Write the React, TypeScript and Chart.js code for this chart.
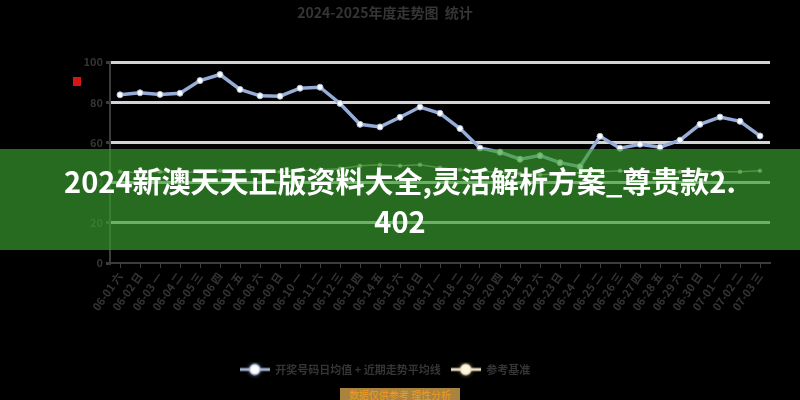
import React, { useEffect, useRef } from "react";
import { Chart, registerables } from "chart.js";

Chart.register(...registerables);

const FONT = "'Noto Sans CJK SC', 'Noto Sans', sans-serif";

const TITLE = "2024-2025年度走势图  统计";
const SERIES_A_NAME = "开奖号码日均值 + 近期走势平均线";
const SERIES_B_NAME = "参考基准";
const BANNER_LINE_1 = "2024新澳天天正版资料大全,灵活解析方案_尊贵款2.";
const BANNER_LINE_2 = "402";
const FOOTER_TEXT = "数据仅供参考 理性分析";

const CATEGORIES = [
  "06-01 六", "06-02 日", "06-03 一", "06-04 二", "06-05 三", "06-06 四", "06-07 五",
  "06-08 六", "06-09 日", "06-10 一", "06-11 二", "06-12 三", "06-13 四", "06-14 五",
  "06-15 六", "06-16 日", "06-17 一", "06-18 二", "06-19 三", "06-20 四", "06-21 五",
  "06-22 六", "06-23 日", "06-24 一", "06-25 二", "06-26 三", "06-27 四", "06-28 五",
  "06-29 六", "06-30 日", "07-01 一", "07-02 二", "07-03 三",
];

const SERIES_A = [
  83.8, 84.8, 84.0, 84.6, 90.9, 93.9, 86.5, 83.3, 83.1, 87.1, 87.6,
  79.5, 69.1, 67.8, 72.6, 77.7, 74.6, 67.0, 57.3, 55.2, 51.7, 53.5,
  50.0, 48.0, 63.1, 57.2, 59.2, 57.7, 61.2, 69.1, 72.7, 70.6, 63.3,
];

const SERIES_B = [
  45.5, 45.0, 45.5, 45.0, 45.5, 46.0, 45.5, 45.0, 45.5, 46.0, 46.5,
  47.0, 48.5, 49.0, 48.5, 49.0, 47.5, 46.5, 46.0, 45.0, 44.5, 44.0,
  44.5, 45.0, 45.5, 46.0, 45.5, 45.0, 45.5, 46.0, 45.5, 45.5, 46.0,
];

const Y_MIN = 0;
const Y_MAX = 100;
const Y_STEP = 20;

function makeIcon(line: string, fill: string, ring: string) {
  const c = document.createElement("canvas");
  c.width = 30;
  c.height = 16;
  const g = c.getContext("2d")!;
  g.strokeStyle = line;
  g.lineWidth = 3;
  g.beginPath();
  g.moveTo(0, 8);
  g.lineTo(30, 8);
  g.stroke();
  g.shadowColor = ring;
  g.shadowBlur = 4;
  g.fillStyle = fill;
  g.beginPath();
  g.arc(15, 8, 5, 0, Math.PI * 2);
  g.fill();
  g.shadowBlur = 0;
  g.lineWidth = 1.5;
  g.strokeStyle = ring;
  g.stroke();
  return c;
}

export default function App() {
  const ref = useRef<HTMLCanvasElement>(null);

  useEffect(() => {
    const canvas = ref.current!;
    Chart.defaults.font.family = FONT;
    const icons = [
      makeIcon("#a3b3d0", "#ffffff", "#b9c9e8"),
      makeIcon("#efe2c4", "#fff6e2", "#f3e4c2"),
    ];
    const chart = new Chart(canvas, {
      type: "line",
      data: {
        labels: CATEGORIES,
        datasets: [
          {
            label: SERIES_A_NAME,
            data: SERIES_A,
            borderColor: "#97acd7",
            borderWidth: 3.5,
            pointRadius: 3,
            pointBackgroundColor: "#ffffff",
            pointBorderColor: "#aabde2",
            pointBorderWidth: 1,
            tension: 0,
          },
          {
            label: SERIES_B_NAME,
            data: SERIES_B,
            borderColor: "rgba(239,227,198,0.55)",
            borderWidth: 1.5,
            pointRadius: 1.5,
            pointBackgroundColor: "rgba(255,250,240,0.6)",
            pointBorderColor: "rgba(239,227,198,0.55)",
            tension: 0,
          },
        ],
      },
      options: {
        responsive: false,
        animation: false,
        layout: { padding: { top: 4, right: 30, bottom: 15, left: 0 } },
        plugins: {
          title: {
            display: true,
            text: TITLE,
            color: "#353535",
            font: { size: 14, weight: "bold", family: FONT },
            padding: { top: 0, bottom: 41.5 },
          },
          legend: {
            position: "bottom",
            labels: {
              usePointStyle: true,
              pointStyleWidth: 30,
              color: "#353535",
              font: { size: 11, weight: "bold", family: FONT },
              padding: 10,
              generateLabels: (ch: any) => {
                const items = Chart.defaults.plugins.legend.labels.generateLabels(ch);
                items.forEach((it: any, i: number) => {
                  it.pointStyle = icons[i];
                });
                return items;
              },
            },
          },
          tooltip: { enabled: false },
        },
        scales: {
          x: {
            offset: true,
            grid: {
              display: true,
              drawOnChartArea: false,
              drawTicks: true,
              tickLength: 5,
              color: "#3c3c3c",
              tickColor: "#3c3c3c",
            },
            border: { color: "#3c3c3c", width: 2 },
            ticks: {
              color: "#353535",
              font: { size: 11, weight: "bold", family: FONT },
              minRotation: 55,
              maxRotation: 55,
              autoSkip: false,
              padding: 2,
            },
            afterFit: (s: any) => {
              s.height = 91;
            },
          },
          y: {
            min: Y_MIN,
            max: Y_MAX,
            ticks: {
              stepSize: Y_STEP,
              color: "#353535",
              font: { size: 11, weight: "bold", family: FONT },
              padding: 3,
            },
            grid: {
              color: (c: any) => (c.tick && c.tick.value === 0 ? "rgba(0,0,0,0)" : "#d4d4d4"),
              lineWidth: 3,
              tickColor: "#3c3c3c",
              tickLength: 4,
            },
            border: { color: "#3c3c3c", width: 2 },
            afterFit: (s: any) => {
              s.width = 110;
            },
          },
        },
      },
    } as any);
    return () => chart.destroy();
  }, []);

  return (
    <div style={{ position: "fixed", inset: 0, background: "#000", overflow: "hidden" }}>
      <div style={{ position: "relative", width: 800, height: 400 }}>
        <canvas ref={ref} width={800} height={400} style={{ display: "block" }} />
        <div
          style={{
            position: "absolute",
            left: 73,
            top: 77,
            width: 8,
            height: 9,
            background: "#d81414",
          }}
        />
        <div
          style={{
            position: "absolute",
            left: 0,
            top: 149,
            width: 800,
            height: 101,
            boxSizing: "border-box",
            paddingTop: 11,
            background: "rgba(57,160,46,0.67)",
            color: "#ffffff",
            fontFamily: FONT,
            fontWeight: 700,
            fontSize: 29,
            lineHeight: "40px",
            textAlign: "center",
            whiteSpace: "nowrap",
          }}
        >
          {BANNER_LINE_1}
          <br />
          {BANNER_LINE_2}
        </div>
        <div
          style={{
            position: "absolute",
            left: 340,
            top: 388,
            width: 120,
            height: 14,
            background: "#a8843e",
            color: "#f09a20",
            fontFamily: FONT,
            fontSize: 10,
            lineHeight: "14px",
            textAlign: "center",
            overflow: "hidden",
          }}
        >
          {FOOTER_TEXT}
        </div>
      </div>
    </div>
  );
}
